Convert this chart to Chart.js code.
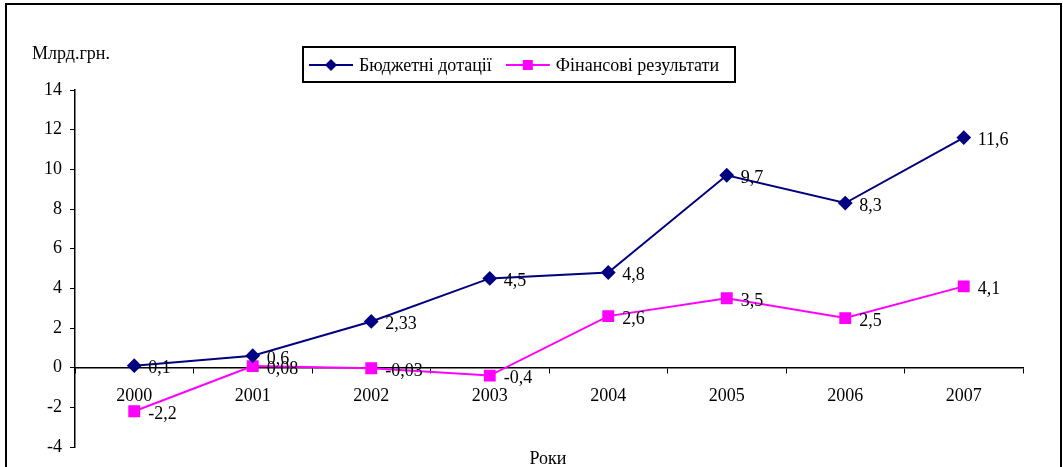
<!DOCTYPE html>
<html>
<head>
<meta charset="utf-8">
<script src="https://cdn.jsdelivr.net/npm/chart.js@4/dist/chart.umd.min.js"></script>
<style>
  html, body { margin: 0; padding: 0; background: #fff; }
  #wrap { width: 1063px; height: 467px; position: relative; }
</style>
</head>
<body>
<div id="wrap"><canvas id="chart"></canvas></div>
<script>
// дані діаграми
const years = ["2000", "2001", "2002", "2003", "2004", "2005", "2006", "2007"];
const dotacii = [0.1, 0.6, 2.33, 4.5, 4.8, 9.7, 8.3, 11.6];
const finRez = [-2.2, 0.08, -0.03, -0.4, 2.6, 3.5, 2.5, 4.1];
const seriesNames = ["Бюджетні дотації", "Фінансові результати"];
const yMin = -4, yMax = 14, yStep = 2;
const yTitle = "Млрд.грн.";
const xTitle = "Роки";

const FONT = "'Liberation Serif', 'Times New Roman', serif";
const FS = 18;

// підписи значень біля точок
const valueLabels = {
  id: "valueLabels",
  afterDatasetsDraw(chart) {
    const ctx = chart.ctx;
    ctx.save();
    ctx.font = FS + "px " + FONT;
    ctx.fillStyle = "#000";
    ctx.textAlign = "left";
    ctx.textBaseline = "middle";
    chart.data.datasets.forEach((ds, i) => {
      const meta = chart.getDatasetMeta(i);
      meta.data.forEach((pt, j) => {
        const txt = String(ds.data[j]).replace(".", ",");
        ctx.fillText(txt, pt.x + 14, pt.y + 3);
      });
    });
    ctx.restore();
  }
};

// легенда в рамці, рамка діаграми, назви осей
const decor = {
  id: "decor",
  afterDraw(chart) {
    const ctx = chart.ctx;
    ctx.save();
    // рамка
    ctx.strokeStyle = "#000";
    ctx.lineWidth = 2;
    ctx.strokeRect(6, 4, 1055, 520);

    ctx.font = FS + "px " + FONT;
    ctx.fillStyle = "#000";
    ctx.textBaseline = "middle";
    ctx.textAlign = "left";
    ctx.fillText(yTitle, 32, 54);
    ctx.textAlign = "center";
    ctx.fillText(xTitle, 548, 459);

    // легенда
    ctx.lineWidth = 2;
    ctx.strokeRect(303, 47, 432, 35);
    const ly = 65;
    let x = 309;
    chart.data.datasets.forEach((ds, i) => {
      ctx.strokeStyle = ds.borderColor;
      ctx.lineWidth = 2;
      ctx.beginPath();
      ctx.moveTo(x, ly);
      ctx.lineTo(x + 44, ly);
      ctx.stroke();
      const cx = x + 22;
      ctx.fillStyle = ds.backgroundColor;
      ctx.beginPath();
      if (i === 0) {
        ctx.moveTo(cx, ly - 6);
        ctx.lineTo(cx + 6, ly);
        ctx.lineTo(cx, ly + 6);
        ctx.lineTo(cx - 6, ly);
        ctx.closePath();
      } else {
        ctx.rect(cx - 5, ly - 5, 10, 10);
      }
      ctx.fill();
      ctx.fillStyle = "#000";
      ctx.textAlign = "left";
      ctx.fillText(ds.label, x + 50, ly + 1);
      x += 50 + ctx.measureText(ds.label).width + 14;
    });
    ctx.restore();
  }
};

new Chart(document.getElementById("chart"), {
  type: "line",
  data: {
    labels: years,
    datasets: [
      {
        label: seriesNames[0],
        data: dotacii,
        borderColor: "#000080",
        backgroundColor: "#000080",
        borderWidth: 2,
        pointStyle: "rectRot",
        pointRadius: 6,
        pointHoverRadius: 6,
        tension: 0
      },
      {
        label: seriesNames[1],
        data: finRez,
        borderColor: "#FF00FF",
        backgroundColor: "#FF00FF",
        borderWidth: 2,
        pointStyle: "rect",
        pointRadius: 7,
        pointHoverRadius: 7,
        tension: 0
      }
    ]
  },
  options: {
    responsive: true,
    maintainAspectRatio: false,
    animation: false,
    events: [],
    layout: { padding: { left: 0, right: 40, top: 90, bottom: 20 } },
    plugins: {
      legend: { display: false },
      tooltip: { enabled: false }
    },
    scales: {
      x: {
        position: { y: 0 },
        offset: true,
        grid: {
          offset: true,
          drawOnChartArea: false,
          drawTicks: true,
          tickLength: 5,
          color: "#000"
        },
        border: { color: "#000", width: 1.5 },
        ticks: {
          color: "#000",
          font: { family: FONT, size: FS },
          padding: 13,
          maxRotation: 0
        }
      },
      y: {
        min: yMin,
        max: yMax,
        afterFit(scale) { scale.width = 75; },
        grid: {
          drawOnChartArea: false,
          drawTicks: true,
          tickLength: 5,
          color: "#000"
        },
        border: { color: "#000", width: 1.5 },
        ticks: {
          stepSize: yStep,
          color: "#000",
          font: { family: FONT, size: FS },
          padding: 8
        }
      }
    }
  },
  plugins: [valueLabels, decor]
});
</script>
</body>
</html>
